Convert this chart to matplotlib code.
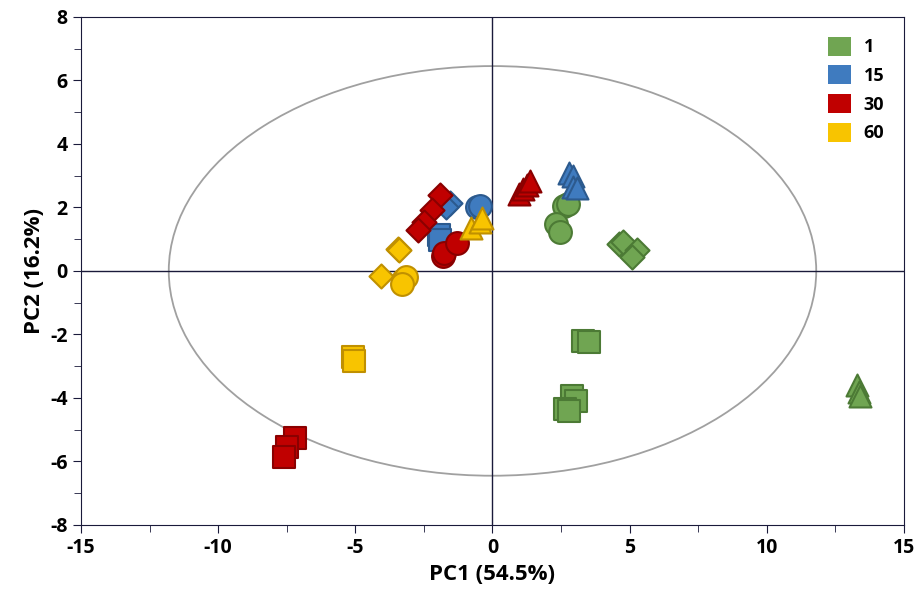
import matplotlib
matplotlib.use("Agg")
import matplotlib.pyplot as plt
from matplotlib.patches import Ellipse, Patch

plt.rcParams["font.family"] = ["Open Sans", "DejaVu Sans"]
plt.rcParams["font.weight"] = "bold"
plt.rcParams["axes.unicode_minus"] = False

groups = ["1", "15", "30", "60"]
face = {"1": "#70a552", "15": "#3f7bbf", "30": "#c00000", "60": "#f8c400"}
edge = {"1": "#4c7a35", "15": "#2c5a8e", "30": "#8a0000", "60": "#c09000"}

# scores: group -> marker -> (x list, y list)
pts = {
    "1": {
        "^": ([13.3, 13.35, 13.4], [-3.6, -3.8, -3.95]),
        "s": ([3.3, 3.5, 2.9, 3.05, 2.65, 2.8], [-2.2, -2.25, -3.95, -4.1, -4.35, -4.4]),
        "o": ([2.6, 2.75, 2.3, 2.45], [2.05, 2.1, 1.48, 1.23]),
        "D": ([4.6, 4.75, 5.25, 5.1], [0.85, 0.91, 0.66, 0.44]),
    },
    "15": {
        "^": ([2.8, 2.95, 2.95, 3.07], [3.08, 3.0, 2.65, 2.6]),
        "o": ([-0.55, -0.45], [2.0, 2.05]),
        "D": ([-1.55, -1.7], [2.15, 2.0]),
        "s": ([-1.95, -1.9], [1.13, 0.98]),
    },
    "30": {
        "s": ([-7.2, -7.5, -7.6], [-5.26, -5.55, -5.85]),
        "^": ([0.95, 1.1, 1.24, 1.35], [2.43, 2.58, 2.71, 2.83]),
        "D": ([-1.93, -2.2, -2.48, -2.7], [2.39, 1.92, 1.54, 1.3]),
        "o": ([-1.8, -1.75, -1.28], [0.48, 0.56, 0.88]),
    },
    "60": {
        "s": ([-5.1, -5.05], [-2.7, -2.85]),
        "D": ([-3.45, -3.4, -4.05], [0.7, 0.65, -0.15]),
        "o": ([-3.25, -3.15, -3.3], [-0.3, -0.18, -0.4]),
        "^": ([-0.77, -0.47, -0.4], [1.35, 1.55, 1.67]),
    },
}
sizes = {"s": 230, "o": 270, "D": 150, "^": 250}

fig = plt.figure(figsize=(9.15, 6.02), dpi=100)
ax = fig.add_axes([0.0885, 0.128, 0.8995, 0.844])

ax.add_patch(Ellipse((0, 0), 23.6, 12.9, fill=False, edgecolor="#a0a0a0", linewidth=1.3))
ax.axhline(0, color="#1a1a3a", linewidth=1, zorder=1)
ax.axvline(0, color="#1a1a3a", linewidth=1, zorder=1)

for g in groups:
    for m, (xs, ys) in pts[g].items():
        ax.scatter(xs, ys, marker=m, s=sizes[m], c=face[g], edgecolors=edge[g],
                   linewidths=1.5, zorder=3)

ax.set_xlim(-15, 15)
ax.set_ylim(-8, 8)
ax.set_xticks(range(-15, 16, 5))
ax.set_yticks(range(-8, 9, 2))
ax.set_xticks([-12.5, -7.5, -2.5, 2.5, 7.5, 12.5], minor=True)
ax.set_yticks(range(-7, 8, 2), minor=True)
ax.tick_params(which="both", direction="out", color="#1a1a3a", labelsize=14)
ax.tick_params(which="major", length=6)
ax.tick_params(which="minor", length=5)
for s in ax.spines.values():
    s.set_color("#1a1a3a")

ax.set_xlabel("PC1 (54.5%)", fontsize=16, fontweight="bold")
ax.set_ylabel("PC2 (16.2%)", fontsize=16, fontweight="bold")

handles = [Patch(facecolor=face[g], edgecolor="none") for g in groups]
ax.legend(handles, groups, loc="upper right", frameon=False, fontsize=13,
          handlelength=1.25, handleheight=1.25, labelspacing=0.5,
          handletextpad=0.7, borderaxespad=0.7)

fig.savefig("out.png", dpi=100)
